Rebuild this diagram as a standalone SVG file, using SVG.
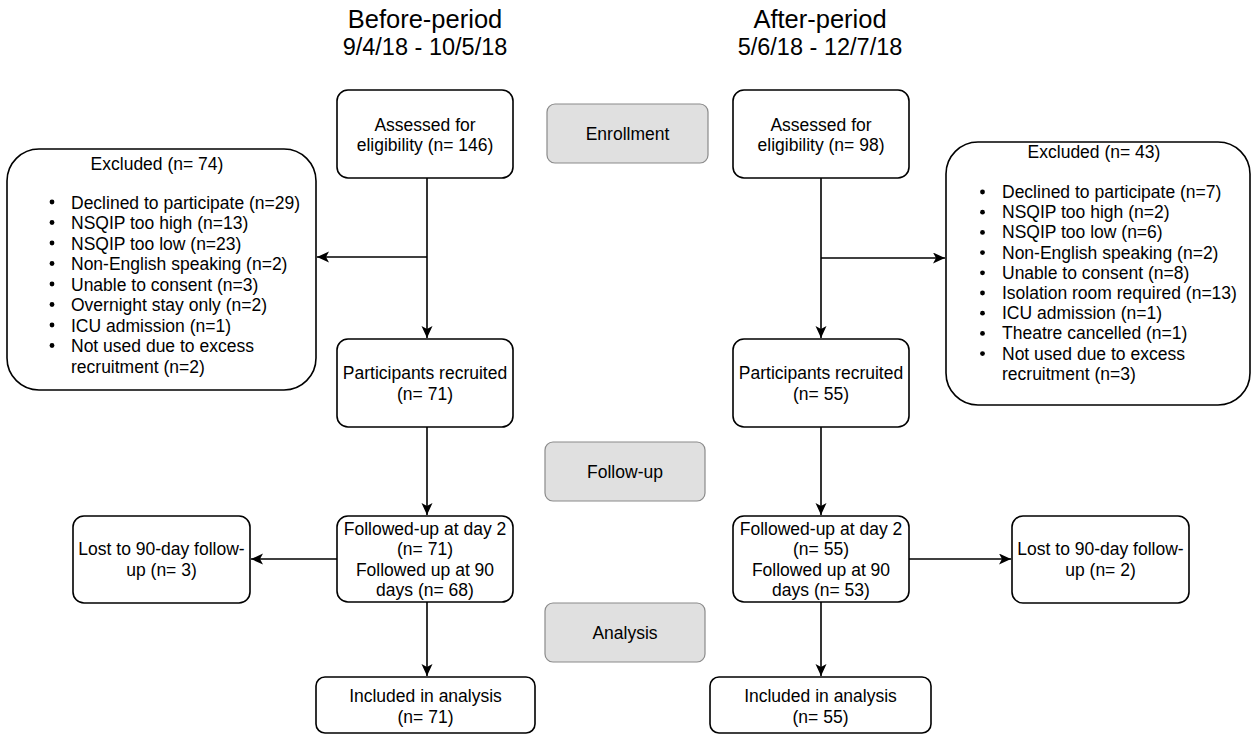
<svg xmlns="http://www.w3.org/2000/svg" width="1253" height="734" viewBox="0 0 1253 734">
  <style>
    text { font-family: "Liberation Sans", Arial, Helvetica, sans-serif; fill: #000; }
    .title { font-size: 25.5px; text-anchor: middle; }
    .date { font-size: 23.5px; text-anchor: middle; }
    .lbl { font-size: 17.5px; text-anchor: middle; }
    .lst { font-size: 17.5px; }
    .box { fill: #fff; stroke: #000; stroke-width: 1.6; }
    .phase { fill: #e0e0e0; stroke: #8a8a8a; stroke-width: 1.2; }
    .conn { fill: none; stroke: #000; stroke-width: 1.6; }
  </style>
  <defs>
    <marker id="arrow" markerUnits="userSpaceOnUse" markerWidth="13" markerHeight="12" refX="12" refY="5.5" orient="auto">
      <path d="M0,0 L12,5.5 L0,11 L3,5.5 Z" fill="#000"/>
    </marker>
    <circle id="dot" r="2.4" fill="#000"/>
  </defs>

  <rect width="1253" height="734" fill="#fff"/>

  <!-- Period headings -->
  <g id="heading-before">
    <text class="title" x="425" y="28">Before-period</text>
    <text class="date" x="425" y="55">9/4/18 - 10/5/18</text>
  </g>
  <g id="heading-after">
    <text class="title" x="820" y="28">After-period</text>
    <text class="date" x="820" y="55">5/6/18 - 12/7/18</text>
  </g>

  <!-- Phase labels -->
  <g id="phase-enrollment">
    <rect class="phase" x="547" y="104" width="161" height="59" rx="8"/>
    <text class="lbl" x="627.5" y="139.5">Enrollment</text>
  </g>
  <g id="phase-followup">
    <rect class="phase" x="545" y="442" width="160" height="59" rx="8"/>
    <text class="lbl" x="625" y="477.5">Follow-up</text>
  </g>
  <g id="phase-analysis">
    <rect class="phase" x="545" y="603" width="160" height="59" rx="8"/>
    <text class="lbl" x="625" y="638.5">Analysis</text>
  </g>

  <!-- Connectors -->
  <g id="connectors">
    <path class="conn" d="M427,178 V338" marker-end="url(#arrow)"/>
    <path class="conn" d="M427,257 H317" marker-end="url(#arrow)"/>
    <path class="conn" d="M427,427 V515" marker-end="url(#arrow)"/>
    <path class="conn" d="M337,559 H251" marker-end="url(#arrow)"/>
    <path class="conn" d="M427,602 V676" marker-end="url(#arrow)"/>

    <path class="conn" d="M821,178 V338" marker-end="url(#arrow)"/>
    <path class="conn" d="M821,258 H945" marker-end="url(#arrow)"/>
    <path class="conn" d="M821,427 V515" marker-end="url(#arrow)"/>
    <path class="conn" d="M909,559 H1011" marker-end="url(#arrow)"/>
    <path class="conn" d="M821,602 V676" marker-end="url(#arrow)"/>
  </g>

  <!-- Before-period arm -->
  <g id="before-assessed">
    <rect class="box" x="337" y="90" width="176" height="88" rx="11"/>
    <text class="lbl" x="425" y="130.5">Assessed for</text>
    <text class="lbl" x="425" y="151">eligibility (n= 146)</text>
  </g>
  <g id="before-excluded">
    <rect class="box" x="7" y="149" width="309" height="241" rx="32"/>
    <text class="lbl" x="157" y="170">Excluded (n= 74)</text>
    <use href="#dot" x="52" y="202"/>
    <use href="#dot" x="52" y="222.5"/>
    <use href="#dot" x="52" y="243"/>
    <use href="#dot" x="52" y="263.5"/>
    <use href="#dot" x="52" y="284"/>
    <use href="#dot" x="52" y="304.5"/>
    <use href="#dot" x="52" y="325"/>
    <use href="#dot" x="52" y="345.5"/>
    <text class="lst" x="71" y="208.5">Declined to participate (n=29)</text>
    <text class="lst" x="71" y="229">NSQIP too high (n=13)</text>
    <text class="lst" x="71" y="249.5">NSQIP too low (n=23)</text>
    <text class="lst" x="71" y="270">Non-English speaking (n=2)</text>
    <text class="lst" x="71" y="290.5">Unable to consent (n=3)</text>
    <text class="lst" x="71" y="311">Overnight stay only (n=2)</text>
    <text class="lst" x="71" y="331.5">ICU admission (n=1)</text>
    <text class="lst" x="71" y="352">Not used due to excess</text>
    <text class="lst" x="71" y="372.5">recruitment (n=2)</text>
  </g>
  <g id="before-recruited">
    <rect class="box" x="337" y="339" width="176" height="88" rx="11"/>
    <text class="lbl" x="425" y="379">Participants recruited</text>
    <text class="lbl" x="425" y="400">(n= 71)</text>
  </g>
  <g id="before-followed">
    <rect class="box" x="337" y="516" width="176" height="86" rx="11"/>
    <text class="lbl" x="425" y="534.5">Followed-up at day 2</text>
    <text class="lbl" x="425" y="555">(n= 71)</text>
    <text class="lbl" x="425" y="575.5">Followed up at 90</text>
    <text class="lbl" x="425" y="596">days (n= 68)</text>
  </g>
  <g id="before-lost">
    <rect class="box" x="73" y="516" width="177" height="87" rx="11"/>
    <text class="lbl" x="161.5" y="555">Lost to 90-day follow-</text>
    <text class="lbl" x="161.5" y="575.5">up (n= 3)</text>
  </g>
  <g id="before-included">
    <rect class="box" x="316" y="677" width="219" height="56" rx="9"/>
    <text class="lbl" x="425.5" y="702">Included in analysis</text>
    <text class="lbl" x="425.5" y="723">(n= 71)</text>
  </g>

  <!-- After-period arm -->
  <g id="after-assessed">
    <rect class="box" x="733" y="90" width="176" height="88" rx="11"/>
    <text class="lbl" x="821" y="130.5">Assessed for</text>
    <text class="lbl" x="821" y="151">eligibility (n= 98)</text>
  </g>
  <g id="after-excluded">
    <rect class="box" x="946" y="142" width="304" height="263" rx="32"/>
    <text class="lbl" x="1094" y="158">Excluded (n= 43)</text>
    <use href="#dot" x="982.5" y="192"/>
    <use href="#dot" x="982.5" y="212.2"/>
    <use href="#dot" x="982.5" y="232.4"/>
    <use href="#dot" x="982.5" y="252.6"/>
    <use href="#dot" x="982.5" y="272.8"/>
    <use href="#dot" x="982.5" y="293"/>
    <use href="#dot" x="982.5" y="313.2"/>
    <use href="#dot" x="982.5" y="333.4"/>
    <use href="#dot" x="982.5" y="353.6"/>
    <text class="lst" x="1002" y="198">Declined to participate (n=7)</text>
    <text class="lst" x="1002" y="218.2">NSQIP too high (n=2)</text>
    <text class="lst" x="1002" y="238.4">NSQIP too low (n=6)</text>
    <text class="lst" x="1002" y="258.6">Non-English speaking (n=2)</text>
    <text class="lst" x="1002" y="278.8">Unable to consent (n=8)</text>
    <text class="lst" x="1002" y="299">Isolation room required (n=13)</text>
    <text class="lst" x="1002" y="319.2">ICU admission (n=1)</text>
    <text class="lst" x="1002" y="339.4">Theatre cancelled (n=1)</text>
    <text class="lst" x="1002" y="359.6">Not used due to excess</text>
    <text class="lst" x="1002" y="379.8">recruitment (n=3)</text>
  </g>
  <g id="after-recruited">
    <rect class="box" x="733" y="339" width="176" height="88" rx="11"/>
    <text class="lbl" x="821" y="379">Participants recruited</text>
    <text class="lbl" x="821" y="400">(n= 55)</text>
  </g>
  <g id="after-followed">
    <rect class="box" x="733" y="516" width="176" height="86" rx="11"/>
    <text class="lbl" x="821" y="534.5">Followed-up at day 2</text>
    <text class="lbl" x="821" y="555">(n= 55)</text>
    <text class="lbl" x="821" y="575.5">Followed up at 90</text>
    <text class="lbl" x="821" y="596">days (n= 53)</text>
  </g>
  <g id="after-lost">
    <rect class="box" x="1012" y="516" width="177" height="87" rx="11"/>
    <text class="lbl" x="1100.5" y="555">Lost to 90-day follow-</text>
    <text class="lbl" x="1100.5" y="575.5">up (n= 2)</text>
  </g>
  <g id="after-included">
    <rect class="box" x="710" y="677" width="221" height="56" rx="9"/>
    <text class="lbl" x="820.5" y="702">Included in analysis</text>
    <text class="lbl" x="820.5" y="723">(n= 55)</text>
  </g>
</svg>
